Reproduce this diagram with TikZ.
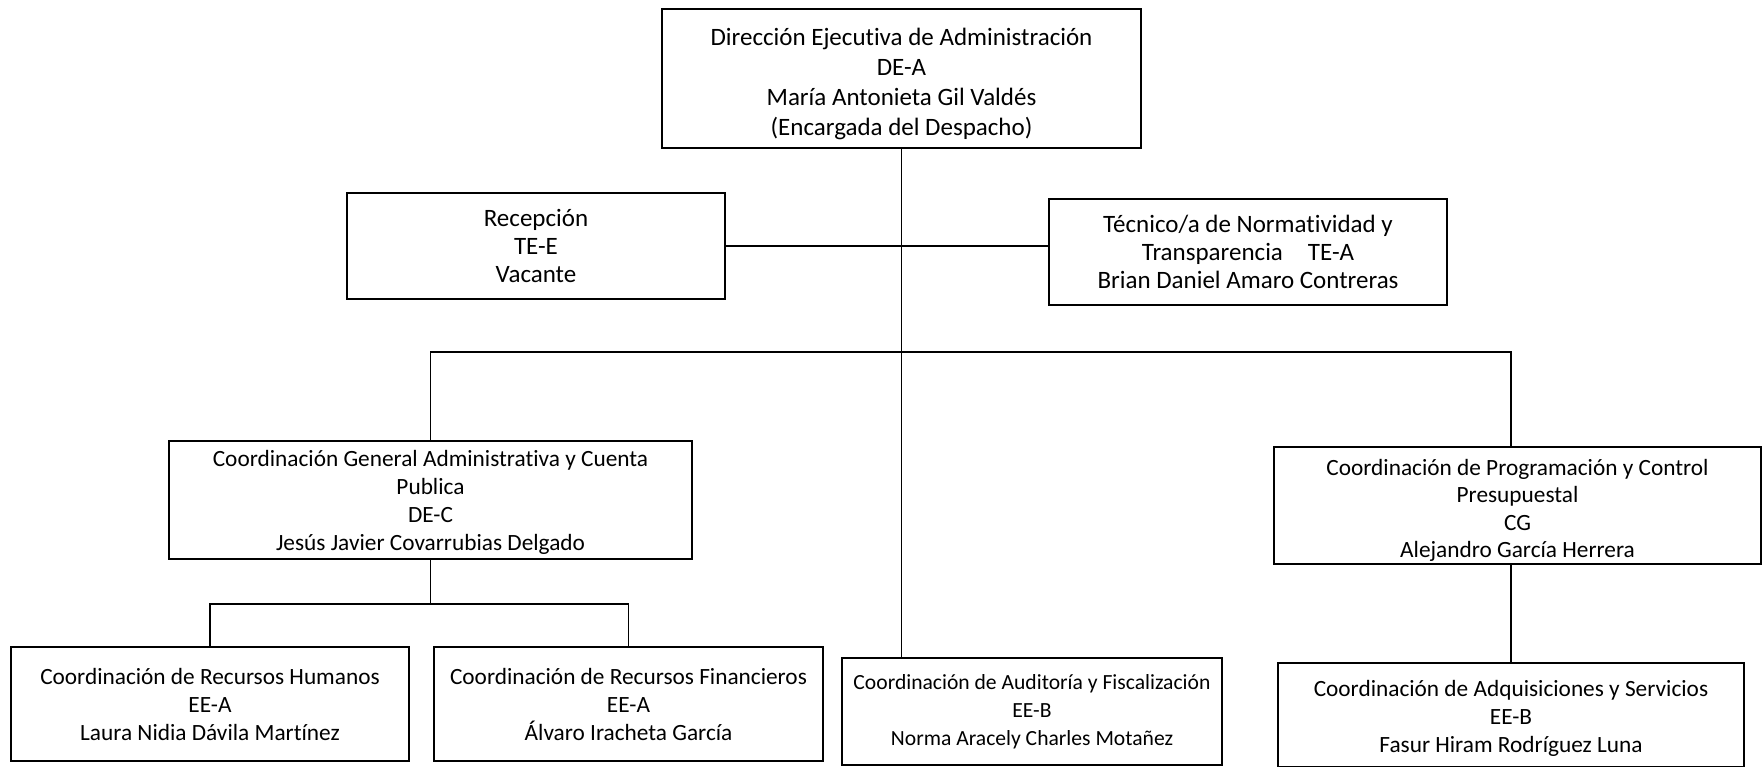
\documentclass[tikz,border=0pt]{standalone}
\usepackage{fontspec}
\setmainfont{Carlito}[Ligatures=CommonOff]
\newcommand{\lowerby}[1]{\rule{0pt}{#1}}
\begin{document}
\begin{tikzpicture}[x=1pt,y=-1pt,
  box/.style={draw=black,line width=1.1pt,rectangle,inner sep=0pt,align=center,
    font=\fontsize{23.3}{28}\selectfont},
  boxtext/.style={align=center,inner sep=0pt,font=\fontsize{23.3}{27.3}\selectfont},
  bigbox/.style={box,font=\fontsize{25}{30}\selectfont},
  midbox/.style={box,font=\fontsize{25}{28}\selectfont},
  smallbox/.style={box,font=\fontsize{21.6}{28}\selectfont},
  link/.style={draw=black,line width=1.1pt}]
\useasboundingbox (0,0) rectangle (1763,767);
\fill[white] (0,0) rectangle (1763,767);
% boxes
\node[bigbox,minimum width=479pt,minimum height=139pt] (top) at (901.5,78.5)
  {\lowerby{28pt}Dirección Ejecutiva de Administración\\DE-A\\María Antonieta Gil Valdés\\(Encargada del Despacho)};
\node[midbox,minimum width=378pt,minimum height=106pt] (rec) at (536,246)
  {Recepción\\TE-E\\Vacante};
\node[midbox,minimum width=398pt,minimum height=106pt] (tec) at (1248,252)
  {Técnico/a de Normatividad y\\Transparencia\quad TE-A\\Brian Daniel Amaro Contreras};
\node[box,minimum width=523pt,minimum height=118pt] (cga) at (430.5,500)
  {\lowerby{20pt}Coordinación General Administrativa y Cuenta\\Publica\\DE-C\\Jesús Javier Covarrubias Delgado};
\node[box,minimum width=487pt,minimum height=117pt,
  label={[boxtext,yshift=-5pt]center:Coordinación de Programación y Control\\Presupuestal\\CG\\Alejandro García Herrera}] (cpcp) at (1517.5,505.5) {};
\node[box,minimum width=398pt,minimum height=114pt] (crh) at (210,704)
  {Coordinación de Recursos Humanos\\EE-A\\Laura Nidia Dávila Martínez};
\node[box,minimum width=389pt,minimum height=114pt] (crf) at (628.5,704)
  {Coordinación de Recursos Financieros\\EE-A\\Álvaro Iracheta García};
\node[smallbox,minimum width=380pt,minimum height=107pt] (caf) at (1032,711.5)
  {Coordinación de Auditoría y Fiscalización\\EE-B\\Norma Aracely Charles Motañez};
\node[box,minimum width=466pt,minimum height=104pt] (cas) at (1511,715)
  {\lowerby{23pt}Coordinación de Adquisiciones y Servicios\\EE-B\\Fasur Hiram Rodríguez Luna};
% connectors
\coordinate (bus) at (900,352);
\draw[link] (top.south) -- (top.south |- caf.north);
\draw[link] (rec.east) -- (rec.east -| top.south);
\draw[link] (rec.east -| top.south) -- (rec.east -| tec.west);
\draw[link] (cga.north) |- (bus) -| (cas.north |- cpcp.north);
\draw[link] (cas.north |- cpcp.south) -- (cas.north);
\coordinate (sub) at (430.5,604);
\draw[link] (cga.south) -- (sub);
\draw[link] (crh.north) |- (sub) -| (crf.north);
\end{tikzpicture}
\end{document}
